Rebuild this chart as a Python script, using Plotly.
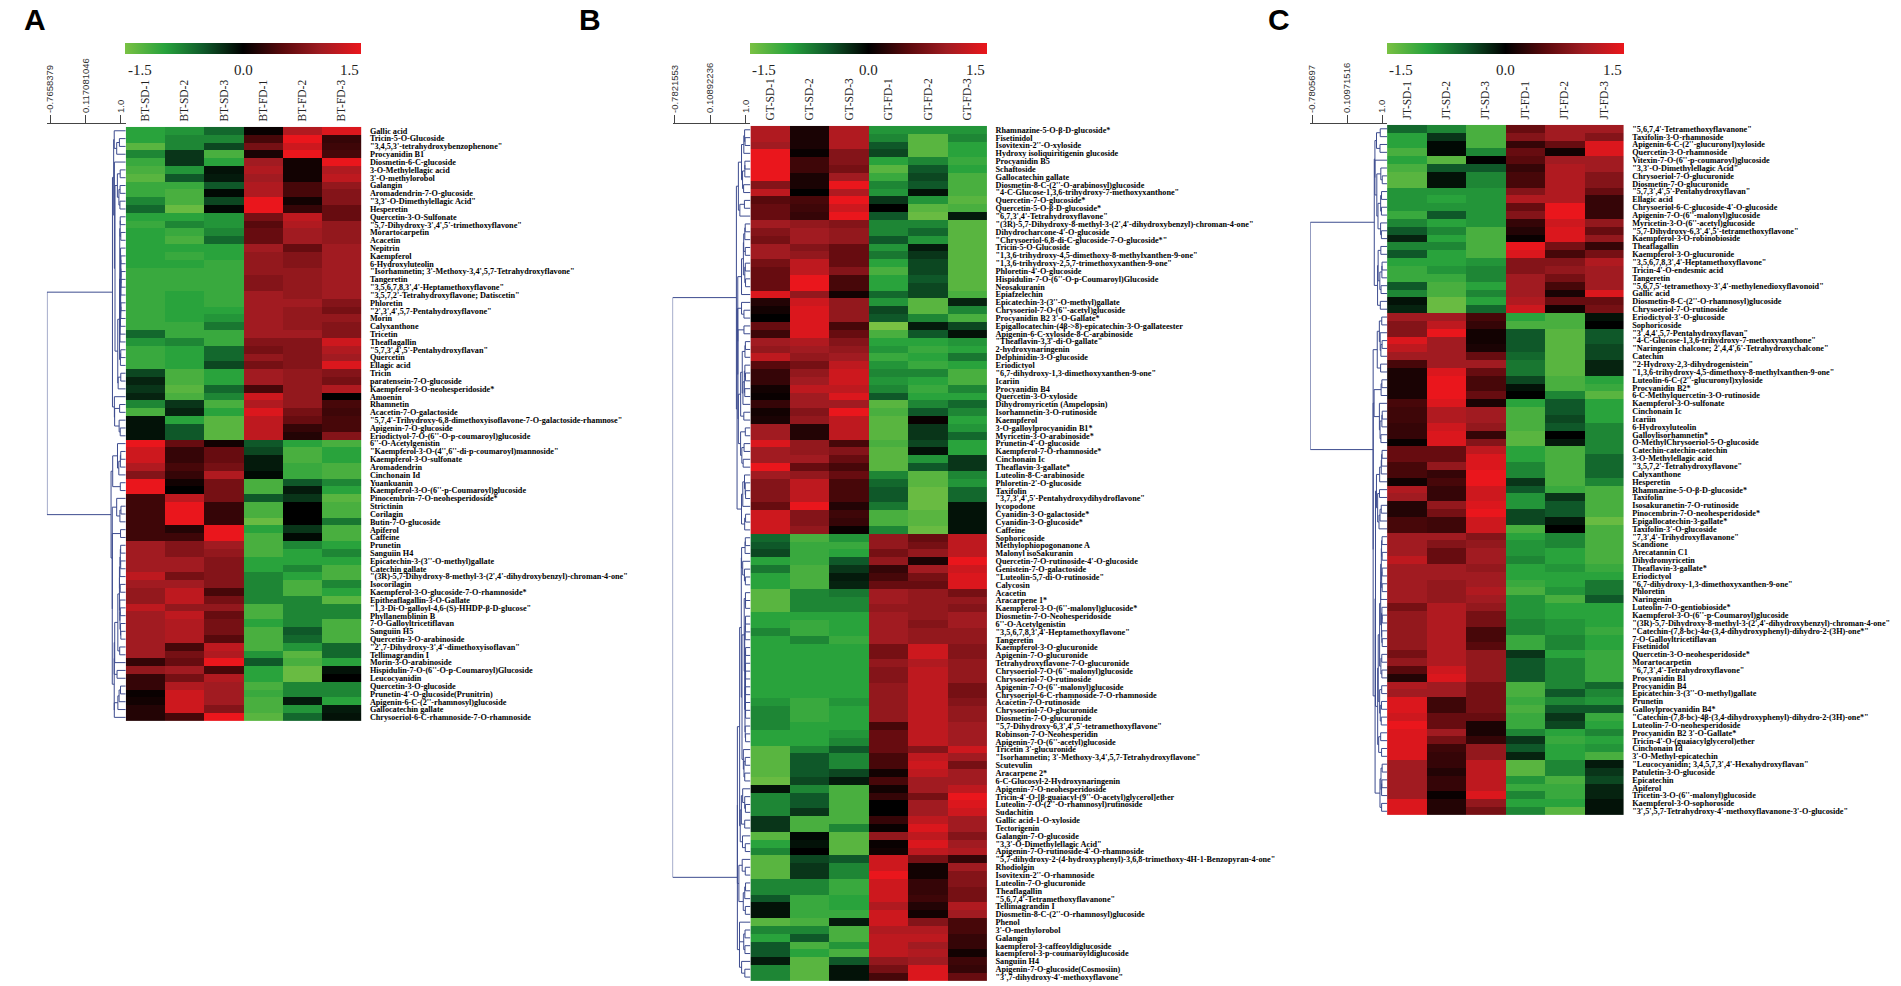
import numpy as np
import plotly.graph_objects as go

# ---------------- data ----------------
cols_a = ["BT-SD-1", "BT-SD-2", "BT-SD-3", "BT-FD-1", "BT-FD-2", "BT-FD-3"]
cols_b = ["GT-SD-1", "GT-SD-2", "GT-SD-3", "GT-FD-1", "GT-FD-2", "GT-FD-3"]
cols_c = ["JT-SD-1", "JT-SD-2", "JT-SD-3", "JT-FD-1", "JT-FD-2", "JT-FD-3"]

# dendrogram axis ticks (similarity)
dtick_a = [-0.7658379, 0.117081046, 1.0]
dlab_a = ["-0.7658379", "0.117081046", "1.0"]
dtick_b = [-0.7821553, 0.10892236, 1.0]
dlab_b = ["-0.7821553", "0.10892236", "1.0"]
dtick_c = [-0.7805697, 0.10971516, 1.0]
dlab_c = ["-0.7805697", "0.10971516", "1.0"]

cb_ticks = [-1.5, 0.0, 1.5]
cb_labels = ["-1.5", "0.0", "1.5"]

names_a = [
    "Gallic acid", "Tricin-5-O-Glucoside", "\"3,4,5,3'-tetrahydroxybenzophenone\"", "Procyanidin B1",
    "Diosmetin-6-C-glucoside", "3-O-Methylellagic acid", "3'-O-methylorobol", "Galangin",
    "Aromadendrin-7-O-glucoside", "\"3,3'-O-Dimethylellagic Acid\"", "Hesperetin", "Quercetin-3-O-Sulfonate",
    "\"5,7-Dihydroxy-3',4',5'-trimethoxyflavone\"", "Morartocarpetin", "Acacetin", "Nepitrin",
    "Kaempferol", "6-Hydroxyluteolin", "\"Isorhamnetin; 3'-Methoxy-3,4',5,7-Tetrahydroxyflavone\"", "Tangeretin",
    "\"3,5,6,7,8,3',4'-Heptamethoxyflavone\"", "\"3,5,7,2'-Tetrahydroxyflavone; Datiscetin\"", "Phloretin",
    "\"2',3',4',5,7-Pentahydroxyflavone\"", "Morin", "Calyxanthone", "Tricetin", "Theaflagallin",
    "\"5,7,3',4',5'-Pentahydroxyflavan\"", "Quercetin", "Ellagic acid", "Tricin", "paratensein-7-O-glucoside",
    "Kaempferol-3-O-neohesperidoside*", "Amoenin", "Rhamnetin", "Acacetin-7-O-galactoside",
    "\"5,7,4'-Trihydroxy-6,8-dimethoxyisoflavone-7-O-galactoside-rhamnose\"", "Apigenin-7-O-glucoside",
    "Eriodictyol-7-O-(6''-O-p-coumaroyl)glucoside", "6''-O-Acetylgenistin",
    "\"Kaempferol-3-O-(4'',6''-di-p-coumaroyl)mannoside\"", "Kaempferol-3-O-sulfonate", "Aromadendrin",
    "Cinchonain Id", "Yuankuanin", "Kaempferol-3-O-(6''-p-Coumaroyl)glucoside", "Pinocembrin-7-O-neohesperidoside*",
    "Strictinin", "Corilagin", "Butin-7-O-glucoside", "Apiferol", "Caffeine", "Prunetin", "Sanguiin H4",
    "Epicatechin-3-(3''-O-methyl)gallate", "Catechin gallate",
    "\"(3R)-5,7-Dihydroxy-8-methyl-3-(2',4'-dihydroxybenzyl)-chroman-4-one\"", "Isocorilagin",
    "Kaempferol-3-O-glucoside-7-O-rhamnoside*", "Epitheaflagallin-3-O-Gallate",
    "\"1,3-Di-O-galloyl-4,6-(S)-HHDP-β-D-glucose\"", "Phyllanemblinin B", "7-O-Galloyltricetiflavan",
    "Sanguiin H5", "Quercetin-3-O-arabinoside", "\"2',7-Dihydroxy-3',4'-dimethoxyisoflavan\"", "Tellimagrandin I",
    "Morin-3-O-arabinoside", "Hispidulin-7-O-(6''-O-p-Coumaroyl)Glucoside", "Leucocyanidin",
    "Quercetin-3-O-glucoside", "Prunetin-4'-O-glucoside(Prunitrin)", "Apigenin-6-C-(2''-rhamnosyl)glucoside",
    "Gallocatechin gallate", "Chrysoeriol-6-C-rhamnoside-7-O-rhamnoside",
]

vals_a = [
    [-1.0, -0.9, -0.6, 0.05, 1.1, 1.4], [-1.0, -0.8, -0.8, 0.4, 1.5, 0.3], [-1.3, -0.8, -0.4, 0.7, 1.3, 0.35],
    [-0.8, -0.3, -1.2, 0.15, 1.5, 0.4], [-1.1, -0.3, -1.0, 1.0, 0.1, 1.5], [-1.2, -0.9, -0.1, 1.1, 0.1, 1.1],
    [-1.3, -0.5, -0.15, 1.0, 0.1, 1.2], [-1.1, -1.1, -0.5, 1.1, 0.4, 0.9], [-1.1, -1.2, -0.05, 1.1, 0.4, 0.8],
    [-0.8, -1.2, -0.4, 1.5, 0.1, 0.8], [-0.6, -1.4, -0.05, 1.5, 0.3, 0.6], [-1.0, -1.0, -0.9, 0.7, 1.2, 0.6],
    [-1.1, -0.8, -0.9, 0.5, 1.1, 0.9], [-1.0, -1.1, -0.8, 0.6, 1.0, 0.9], [-1.0, -1.2, -0.6, 0.6, 1.0, 0.9],
    [-1.0, -1.0, -1.0, 1.0, 0.6, 1.0], [-1.0, -1.1, -1.0, 0.9, 0.8, 1.0], [-1.0, -1.0, -1.1, 0.9, 0.8, 1.0],
    [-1.1, -1.1, -1.1, 0.9, 0.9, 1.0], [-1.1, -1.1, -1.1, 0.8, 0.9, 1.0], [-1.1, -1.1, -1.1, 0.8, 0.9, 1.0],
    [-1.1, -1.0, -1.1, 1.0, 0.9, 1.0], [-1.1, -1.0, -1.1, 1.0, 1.0, 0.8], [-1.1, -1.0, -1.0, 1.0, 0.9, 0.7],
    [-1.1, -1.0, -0.9, 1.0, 0.9, 0.9], [-1.1, -1.1, -0.7, 1.0, 0.9, 0.8], [-0.6, -1.1, -1.1, 1.0, 1.0, 0.8],
    [-0.9, -0.8, -1.1, 0.8, 0.8, 1.3], [-1.1, -1.0, -0.6, 0.7, 0.8, 1.1], [-1.1, -1.0, -0.6, 0.9, 0.8, 1.0],
    [-1.1, -1.0, -0.4, 0.7, 0.8, 1.4], [-0.4, -1.2, -1.0, 1.0, 0.9, 0.8], [-0.2, -1.2, -1.0, 1.0, 0.9, 0.7],
    [-0.3, -1.3, -0.6, 0.4, 0.9, 1.1], [-0.2, -1.2, -0.8, 1.3, 0.9, 0.0], [-0.8, -0.3, -1.2, 1.1, 0.9, 0.4],
    [-1.2, -0.2, -1.0, 1.4, 0.7, 0.35], [-0.1, -1.0, -1.3, 1.2, 0.6, 0.4], [-0.1, -0.5, -1.3, 1.2, 0.3, 0.4],
    [-0.1, -0.5, -1.3, 1.2, 0.2, 0.8], [1.5, 0.6, 0.1, -0.5, -1.0, -1.2], [1.3, 0.3, 0.6, -0.4, -1.2, -1.0],
    [1.3, 0.3, 0.6, -0.15, -1.2, -1.0], [1.1, 0.4, 0.7, -0.15, -1.1, -1.2], [0.8, 0.3, 1.1, -0.05, -1.1, -1.2],
    [1.5, 0.1, 0.7, -1.2, -0.5, -0.8], [1.5, 0.0, 0.7, -1.2, -0.15, -1.0], [0.35, 1.2, 0.7, -0.5, -0.3, -1.3],
    [0.35, 1.5, 0.3, -1.2, 0.0, -1.2], [0.35, 1.5, 0.3, -1.2, 0.0, -1.2], [0.35, 1.5, 0.3, -1.4, 0.0, -0.7],
    [0.35, 0.2, 1.5, -1.0, -0.3, -1.2], [0.35, 0.35, 1.5, -1.2, -0.05, -1.2], [1.0, 0.8, 1.0, -1.2, -0.8, -1.0],
    [1.0, 0.8, 0.9, -1.2, -1.0, -0.8], [1.0, 1.0, 0.8, -1.0, -1.0, -1.0], [1.0, 1.0, 0.8, -1.0, -0.8, -1.2],
    [1.2, 0.7, 0.8, -0.8, -1.0, -1.2], [1.0, 1.0, 0.8, -0.8, -1.2, -0.8], [0.9, 1.2, 0.4, -0.8, -1.2, -1.0],
    [0.9, 1.2, 0.7, -0.8, -0.8, -1.3], [1.2, 0.9, 0.9, -1.2, -0.8, -0.8], [1.0, 1.2, 0.6, -1.2, -0.8, -0.8],
    [1.0, 1.1, 0.7, -1.0, -0.8, -1.2], [1.0, 1.1, 0.7, -1.2, -0.5, -1.2], [1.0, 1.1, 0.5, -1.2, -0.6, -1.2],
    [1.0, 0.4, 1.2, -1.2, -0.9, -0.6], [1.0, 0.7, 1.1, -0.9, -1.3, -0.6], [0.3, 0.6, 1.5, -0.5, -1.2, -1.0],
    [0.9, 1.0, 0.4, -1.0, -1.4, -0.1], [0.3, 0.7, 1.1, -1.0, -1.4, 0.0], [0.3, 1.1, 1.0, -1.2, -0.8, -0.8],
    [0.05, 1.3, 1.0, -1.1, -0.8, -0.8], [0.1, 1.3, 1.0, -1.2, -0.15, -1.0], [0.2, 1.3, 0.8, -1.2, -0.9, -0.15],
    [0.2, 0.4, 1.5, -1.3, -0.6, -0.1],
]

names_b = [
    "Rhamnazine-5-O-β-D-glucoside*", "Fisetinidol", "Isovitexin-2''-O-xyloside", "Hydroxy isoliquiritigenin glucoside",
    "Procyanidin B5", "Schaftoside", "Gallocatechin gallate", "Diosmetin-8-C-(2''-O-arabinosyl)glucoside",
    "\"4-C-Glucose-1,3,6-trihydroxy-7-methoxyxanthone\"", "Quercetin-7-O-glucoside*", "Quercetin-5-O-β-D-glucoside*",
    "\"6,7,3',4'-Tetrahydroxyflavone\"", "\"(3R)-5,7-Dihydroxy-8-methyl-3-(2',4'-dihydroxybenzyl)-chroman-4-one\"",
    "Dihydrocharcone-4'-O-glucoside", "\"Chrysoeriol-6,8-di-C-glucoside-7-O-glucoside*\"", "Tricin-5-O-Glucoside",
    "\"1,3,6-trihydroxy-4,5-dimethoxy-8-methylxanthen-9-one\"", "\"1,3,6-trihydroxy-2,5,7-trimethoxyxanthen-9-one\"",
    "Phloretin-4'-O-glucoside", "Hispidulin-7-O-(6''-O-p-Coumaroyl)Glucoside", "Neosakuranin", "Epiafzelechin",
    "Epicatechin-3-(3''-O-methyl)gallate", "Chrysoeriol-7-O-(6''-acetyl)glucoside", "Procyanidin B2 3'-O-Gallate*",
    "Epigallocatechin-(4β->8)-epicatechin-3-O-gallateester", "Apigenin-6-C-xyloside-8-C-arabinoside",
    "\"Theaflavin-3,3'-di-O-gallate\"", "2-hydroxynaringenin", "Delphinidin-3-O-glucoside", "Eriodictyol",
    "\"6,7-dihydroxy-1,3-dimethoxyxanthen-9-one\"", "Icariin", "Procyanidin B4", "Quercetin-3-O-xyloside",
    "Dihydromyricetin (Ampelopsin)", "Isorhamnetin-3-O-rutinoside", "Kaempferol", "3-O-galloylprocyanidin B1*",
    "Myricetin-3-O-arabinoside*", "Prunetin-4'-O-glucoside", "Kaempferol-7-O-rhamnoside*", "Cinchonain Ic",
    "Theaflavin-3-gallate*", "Luteolin-8-C-arabinoside", "Phloretin-2'-O-glucoside", "Taxifolin",
    "\"3,7,3',4',5'-Pentahydroxydihydroflavone\"", "lycopodone", "Cyanidin-3-O-galactoside*", "Cyanidin-3-O-glucoside*",
    "Caffeine", "Sophoricoside", "Methylophiopogonanone A", "Malonyl isoSakuranin",
    "Quercetin-7-O-rutinoside-4'-O-glucoside", "Genistein-7-O-galactoside", "\"Luteolin-5,7-di-O-rutinoside\"",
    "Calycosin", "Acacetin", "Aracarpene 1*", "Kaempferol-3-O-(6''-malonyl)glucoside*", "Diosmetin-7-O-Neohesperidoside",
    "6''-O-Acetylgenistin", "\"3,5,6,7,8,3',4'-Heptamethoxyflavone\"", "Tangeretin", "Kaempferol-3-O-glucuronide",
    "Apigenin-7-O-glucuronide", "Tetrahydroxyflavone-7-O-glucuronide", "Chrysoeriol-7-O-(6''-malonyl)glucoside",
    "Chrysoeriol-7-O-rutinoside", "Apigenin-7-O-(6''-malonyl)glucoside", "Chrysoeriol-6-C-rhamnoside-7-O-rhamnoside",
    "Acacetin-7-O-rutinoside", "Chrysoeriol-7-O-glucuronide", "Diosmetin-7-O-glucuronide",
    "\"5,7-Dihydroxy-6,3',4',5'-tetramethoxyflavone\"", "Robinson-7-O-Neohesperidin",
    "Apigenin-7-O-(6''-acetyl)glucoside", "Tricetin 3'-glucuronide",
    "\"Isorhamnetin; 3'-Methoxy-3,4',5,7-Tetrahydroxyflavone\"", "Scutevulin", "Aracarpene 2*",
    "6-C-Glucosyl-2-Hydroxynaringenin", "Apigenin-7-O-neohesperidoside",
    "Tricin-4'-O-[β-guaiacyl-(9''-O-acetyl)glycerol]ether", "Luteolin-7-O-(2''-O-rhamnosyl)rutinoside", "Sudachitin",
    "Gallic acid-1-O-xyloside", "Tectorigenin", "Galangin-7-O-glucoside", "\"3,3'-O-Dimethylellagic Acid\"",
    "Apigenin-7-O-rutinoside-4'-O-rhamnoside",
    "\"5,7-dihydroxy-2-(4-hydroxyphenyl)-3,6,8-trimethoxy-4H-1-Benzopyran-4-one\"", "Rhodiolgin",
    "Isovitexin-2''-O-rhamnoside", "Luteolin-7-O-glucuronide", "Theaflagallin",
    "\"5,6,7,4'-Tetramethoxyflavanone\"", "Tellimagrandin I", "Diosmetin-8-C-(2''-O-rhamnosyl)glucoside", "Phenol",
    "3'-O-methylorobol", "Galangin", "kaempferol-3-caffeoyldiglucoside", "kaempferol-3-p-coumaroyldiglucoside",
    "Sanguiin H4", "Apigenin-7-O-glucoside(Cosmosiin)", "\"3',7-dihydroxy-4'-methoxyflavone\"",
]

vals_b = [
    [1.1, 0.15, 1.1, -0.9, -0.9, -0.9], [1.1, 0.15, 1.1, -0.8, -1.3, -0.8], [1.0, 0.15, 1.1, -0.5, -1.3, -1.0],
    [1.5, 0.05, 0.8, -0.4, -1.3, -1.0], [1.5, 0.35, 0.8, -1.0, -0.8, -1.1], [1.5, 0.35, 0.7, -1.3, -0.5, -1.0],
    [1.5, 0.15, 1.0, -1.1, -0.4, -1.2], [0.8, 0.15, 1.5, -0.8, -0.5, -1.2], [1.2, 0.0, 1.1, -0.9, -0.1, -1.2],
    [0.5, 0.4, 1.5, -0.3, -0.9, -1.3], [0.6, 0.35, 1.3, 0.0, -1.3, -1.2], [0.6, 0.3, 1.5, -0.5, -1.4, -0.15],
    [1.0, 0.9, 0.8, -0.8, -0.8, -1.3], [0.8, 1.0, 0.9, -0.8, -0.6, -1.3], [0.7, 1.0, 0.9, -0.5, -0.9, -1.3],
    [1.0, 0.8, 0.6, -0.9, -0.15, -1.3], [1.0, 0.9, 0.6, -0.7, -0.3, -1.3], [0.7, 1.2, 0.6, -1.0, -0.4, -1.3],
    [0.6, 1.2, 0.8, -1.2, -0.4, -1.3], [0.6, 1.5, 0.4, -1.0, -0.5, -1.3], [0.6, 1.5, 0.4, -1.0, -0.4, -1.3],
    [1.4, 0.9, 0.1, -0.6, -0.4, -1.2], [0.2, 1.3, 0.9, -0.9, -1.3, -0.2], [0.1, 1.4, 0.9, -0.4, -1.3, -0.8],
    [0.0, 1.4, 0.9, -0.5, -0.8, -1.2], [0.6, 1.4, 0.4, -1.5, -0.15, -0.4], [0.35, 1.4, 0.6, -1.2, -0.5, -0.1],
    [1.0, 1.1, 0.8, -1.0, -1.0, -0.9], [0.9, 1.0, 0.9, -0.9, -1.1, -1.0], [1.2, 0.9, 1.0, -1.1, -1.0, -0.7],
    [0.5, 0.7, 1.2, -0.9, -1.1, -1.0], [0.3, 0.9, 1.3, -0.8, -0.8, -1.2], [0.3, 1.0, 1.3, -0.9, -1.0, -1.2],
    [0.1, 1.2, 1.2, -0.8, -1.1, -0.8], [0.05, 1.0, 1.4, -0.5, -1.0, -1.0], [0.3, 1.0, 1.0, -1.3, -0.8, -0.6],
    [0.1, 0.8, 1.5, -1.2, -0.5, -0.8], [0.15, 0.9, 1.2, -1.3, 0.05, -1.0], [1.0, 0.2, 1.2, -1.3, -0.3, -0.9],
    [1.0, 0.2, 1.2, -1.3, -0.3, -0.6], [1.4, 0.9, 0.4, -1.2, -0.4, -1.0], [1.0, 0.9, 0.8, -1.3, -0.1, -1.0],
    [1.0, 1.0, 0.6, -1.3, -0.9, -0.3], [1.5, 0.6, 0.4, -1.3, -0.5, -0.3], [1.0, 0.9, 0.6, -0.8, -1.3, -0.8],
    [0.8, 1.2, 0.4, -0.6, -1.3, -0.9], [0.8, 1.2, 0.4, -0.5, -1.4, -0.6], [0.8, 1.2, 0.4, -0.5, -1.4, -0.6],
    [0.6, 1.5, 0.2, -0.7, -1.4, -0.1], [1.3, 0.8, 0.35, -1.2, -1.3, -0.1], [1.3, 0.8, 0.3, -1.2, -1.3, -0.1],
    [1.3, 0.9, 0.05, -0.8, -1.4, -0.1], [-0.6, -1.2, -0.9, 0.9, 0.6, 1.2], [-0.5, -1.1, -1.1, 0.9, 0.7, 1.2],
    [-0.4, -1.1, -1.0, 0.7, 0.9, 1.2], [-1.0, -1.1, -0.5, 0.9, 0.15, 1.5], [-0.7, -1.2, -0.3, 0.3, 1.0, 1.3],
    [-1.0, -1.2, -0.15, 0.4, 0.7, 1.4], [-1.0, -1.2, -0.2, 0.6, 0.6, 1.4], [-1.3, -0.8, -0.7, 1.0, 0.9, 0.7],
    [-1.3, -0.8, -0.8, 1.0, 0.9, 0.9], [-1.3, -0.8, -0.8, 0.9, 0.9, 0.8], [-1.0, -1.0, -1.0, 1.0, 0.9, 1.0],
    [-1.0, -1.1, -1.0, 1.0, 0.8, 1.0], [-0.8, -1.1, -1.0, 1.0, 0.9, 0.9], [-1.0, -0.8, -1.1, 1.0, 0.9, 0.9],
    [-1.0, -1.0, -1.0, 0.7, 1.3, 0.8], [-1.0, -1.0, -1.0, 0.7, 1.3, 0.8], [-1.0, -1.0, -1.0, 0.9, 1.1, 0.9],
    [-1.0, -1.0, -1.0, 0.8, 1.2, 0.9], [-1.0, -1.0, -1.0, 0.8, 1.2, 0.9], [-1.0, -1.0, -1.0, 0.9, 1.2, 0.7],
    [-1.0, -1.0, -1.0, 0.9, 1.2, 0.7], [-0.9, -1.1, -0.9, 0.9, 1.2, 0.8], [-0.8, -1.1, -1.0, 0.9, 1.2, 0.9],
    [-0.8, -1.1, -1.0, 0.9, 1.2, 0.9], [-0.8, -1.0, -1.0, 0.4, 1.2, 1.0], [-1.0, -1.0, -0.9, 0.6, 1.2, 1.0],
    [-1.0, -1.0, -0.8, 0.6, 1.2, 1.0], [-1.3, -0.8, -0.5, 0.6, 0.8, 1.3], [-1.3, -0.5, -0.8, 0.4, 1.2, 1.0],
    [-1.3, -0.5, -0.8, 0.4, 1.3, 0.7], [-1.3, -0.5, -0.4, 0.1, 1.2, 1.0], [-1.4, -0.4, -0.15, 0.4, 1.0, 1.0],
    [-0.1, -0.8, -1.2, 0.1, 1.0, 1.2], [-0.8, -0.5, -1.2, 0.3, 0.7, 1.5], [-0.8, -0.5, -1.2, 0.0, 1.0, 1.4],
    [-0.8, -0.3, -1.2, 0.0, 1.0, 1.3], [-0.3, -1.2, -1.2, 0.3, 1.2, 1.0], [-0.3, -1.2, -0.8, 0.05, 1.4, 1.0],
    [-1.3, -0.05, -1.3, 0.9, 1.2, 0.8], [-1.0, -0.1, -1.3, 0.05, 1.4, 1.0], [-0.8, 0.0, -1.3, 0.1, 1.2, 1.1],
    [-1.3, -0.4, -0.5, 1.3, 0.7, 0.3], [-1.3, -0.3, -0.8, 1.3, 0.1, 1.0], [-1.3, -0.3, -0.8, 1.5, 0.1, 0.8],
    [-0.8, -0.8, -1.1, 1.3, 0.3, 0.8], [-0.8, -0.8, -1.1, 1.3, 0.3, 0.7], [-0.5, -1.1, -1.0, 1.3, 0.35, 0.7],
    [-0.1, -1.1, -1.0, 1.1, 0.2, 1.1], [-0.1, -1.1, -1.1, 1.3, 0.1, 1.0], [-1.3, -1.2, -0.15, 1.3, 0.8, 0.4],
    [-0.8, -0.8, -1.2, 1.1, 1.1, 0.4], [-1.0, -0.5, -1.2, 1.2, 1.2, 0.3], [-0.5, -1.2, -0.9, 1.2, 1.0, 0.3],
    [-0.5, -1.0, -1.2, 1.2, 1.1, 0.1], [-0.15, -1.3, -0.5, 0.9, 1.0, 0.35], [-0.8, -1.3, -0.1, 0.7, 1.4, 0.3],
    [-0.8, -1.3, -0.1, 0.4, 1.4, 0.6],
]

names_c = [
    "\"5,6,7,4'-Tetramethoxyflavanone\"", "Taxifolin-3-O-rhamnoside", "Apigenin-6-C-(2''-glucuronyl)xyloside",
    "Quercetin-3-O-rhamnoside", "Vitexin-7-O-(6''-p-coumaroyl)glucoside", "\"3,3'-O-Dimethylellagic Acid\"",
    "Chrysoeriol-7-O-glucuronide", "Diosmetin-7-O-glucuronide", "\"5,7,3',4',5'-Pentahydroxyflavan\"", "Ellagic acid",
    "Chrysoeriol-6-C-glucoside-4'-O-glucoside", "Apigenin-7-O-(6''-malonyl)glucoside",
    "Myricetin-3-O-(6''-acetyl)glucoside", "\"5,7-Dihydroxy-6,3',4',5'-tetramethoxyflavone\"",
    "Kaempferol-3-O-robinobioside", "Theaflagallin", "Kaempferol-3-O-glucuronide",
    "\"3,5,6,7,8,3',4'-Heptamethoxyflavone\"", "Tricin-4'-O-endesmic acid", "Tangeretin",
    "\"5,6,7,5'-tetramethoxy-3',4'-methylenedioxyflavonoid\"", "Gallic acid",
    "Diosmetin-8-C-(2''-O-rhamnosyl)glucoside", "Chrysoeriol-7-O-rutinoside", "Eriodictyol-3'-O-glucoside",
    "Sophoricoside", "\"3',4,4',5,7-Pentahydroxyflavan\"", "\"4-C-Glucose-1,3,6-trihydroxy-7-methoxyxanthone\"",
    "\"Naringenin chalcone; 2',4,4',6'-Tetrahydroxychalcone\"", "Catechin", "\"2-Hydroxy-2,3-dihydrogenistein\"",
    "\"1,3,6-trihydroxy-4,5-dimethoxy-8-methylxanthen-9-one\"", "Luteolin-6-C-(2''-glucuronyl)xyloside",
    "Procyanidin B2*", "6-C-Methylquercetin-3-O-rutinoside", "Kaempferol-3-O-sulfonate", "Cinchonain Ic", "Icariin",
    "6-Hydroxyluteolin", "Galloylisorhamnetin*", "O-MethylChrysoeriol-5-O-glucoside", "Catechin-catechin-catechin",
    "3-O-Methylellagic acid", "\"3,5,7,2'-Tetrahydroxyflavone\"", "Calyxanthone", "Hesperetin",
    "Rhamnazine-5-O-β-D-glucoside*", "Taxifolin", "Isosakuranetin-7-O-rutinoside", "Pinocembrin-7-O-neohesperidoside*",
    "Epigallocatechin-3-gallate*", "Taxifolin-3'-O-glucoside", "\"7,3',4'-Trihydroxyflavanone\"", "Scandione",
    "Arecatannin C1", "Dihydromyricetin", "Theaflavin-3-gallate*", "Eriodictyol",
    "\"6,7-dihydroxy-1,3-dimethoxyxanthen-9-one\"", "Phloretin", "Naringenin", "Luteolin-7-O-gentiobioside*",
    "Kaempferol-3-O-(6''-p-Coumaroyl)glucoside",
    "\"(3R)-5,7-Dihydroxy-8-methyl-3-(2',4'-dihydroxybenzyl)-chroman-4-one\"",
    "\"Catechin-(7,8-bc)-4α-(3,4-dihydroxyphenyl)-dihydro-2-(3H)-one*\"", "7-O-Galloyltricetiflavan", "Fisetinidol",
    "Quercetin-3-O-neohesperidoside*", "Morartocarpetin", "\"6,7,3',4'-Tetrahydroxyflavone\"", "Procyanidin B1",
    "Procyanidin B4", "Epicatechin-3-(3''-O-methyl)gallate", "Prunetin", "Galloylprocyanidin B4*",
    "\"Catechin-(7,8-bc)-4β-(3,4-dihydroxyphenyl)-dihydro-2-(3H)-one*\"", "Luteolin-7-O-neohesperidoside",
    "Procyanidin B2 3'-O-Gallate*", "Tricin-4'-O-(guaiacylglycerol)ether", "Cinchonain Id", "3'-O-Methyl-epicatechin",
    "\"Leucocyanidin; 3,4,5,7,3',4'-Hexahydroxyflavan\"", "Patuletin-3-O-glucoside", "Epicatechin", "Apiferol",
    "Tricetin-3-O-(6''-malonyl)glucoside", "Kaempferol-3-O-sophoroside",
    "\"3',5',5,7-Tetrahydroxy-4'-methoxyflavanone-3'-O-glucoside\"",
]

vals_c = [
    [-0.6, -0.8, -1.2, 0.6, 1.0, 1.0], [-1.0, -0.3, -1.2, 0.8, 1.0, 0.8], [-1.0, -0.05, -1.2, 0.3, 0.6, 1.4],
    [-1.2, -0.05, -0.8, 0.6, 0.1, 1.4], [-1.0, -1.3, 0.0, 0.5, 1.0, 1.0], [-1.2, -0.5, -0.5, 0.3, 1.1, 1.0],
    [-1.3, -0.1, -0.8, 0.4, 1.1, 0.8], [-1.3, -0.1, -0.8, 0.4, 1.1, 0.8], [-0.9, -0.9, -0.9, 0.8, 1.1, 0.6],
    [-0.9, -1.0, -0.9, 1.1, 1.1, 0.3], [-0.9, -0.9, -0.9, 0.6, 1.5, 0.3], [-1.1, -0.5, -0.9, 0.8, 1.5, 0.3],
    [-0.8, -1.0, -0.9, 0.3, 1.3, 0.9], [-0.5, -0.8, -1.2, 0.2, 1.4, 0.6], [-0.2, -1.0, -1.2, 0.05, 1.4, 0.9],
    [-0.8, -0.8, -1.2, 1.5, 0.7, 0.3], [-0.5, -1.0, -1.2, 1.4, 0.4, 0.7], [-1.0, -1.0, -0.9, 0.8, 0.8, 1.1],
    [-1.1, -0.9, -0.8, 0.8, 0.9, 1.0], [-1.1, -1.1, -0.8, 1.0, 0.7, 1.0], [-0.5, -1.2, -1.0, 1.0, 0.4, 1.0],
    [-0.8, -1.2, -0.8, 1.0, 0.15, 1.4], [-0.1, -1.4, -1.0, 1.1, 0.6, 0.6], [-0.2, -1.4, -0.6, 1.3, 0.1, 0.7],
    [1.0, 1.0, 0.4, -1.0, -1.2, -0.1], [0.8, 1.2, 0.3, -1.2, -1.2, 0.0], [0.8, 1.5, 0.1, -0.5, -1.3, -0.5],
    [1.4, 1.0, 0.1, -0.5, -1.3, -0.5], [1.2, 1.0, 0.15, -0.5, -1.3, -0.4], [1.0, 1.0, 0.6, -0.6, -1.3, -0.4],
    [0.4, 1.0, 1.0, -0.7, -1.3, -0.2], [0.15, 1.4, 0.6, -0.7, -1.3, -0.2], [0.15, 1.5, 0.4, -0.4, -1.2, -1.0],
    [0.15, 1.5, 0.4, -0.1, -1.2, -1.1], [0.15, 1.5, 0.6, 0.0, -0.8, -1.3], [0.4, 1.4, 0.15, -1.0, -0.5, -1.0],
    [0.35, 1.1, 1.0, -1.2, -0.5, -1.0], [0.35, 1.1, 1.0, -1.2, -0.4, -1.0], [0.3, 1.3, 0.9, -1.2, -0.5, -0.8],
    [0.3, 1.4, 0.3, -1.3, 0.0, -0.8], [0.05, 1.4, 0.8, -1.3, -0.15, -0.8], [0.6, 0.6, 1.2, -1.0, -1.2, -0.8],
    [0.6, 0.6, 1.4, -1.0, -1.2, -0.6], [0.4, 0.9, 1.4, -0.8, -1.2, -0.6], [0.4, 0.3, 1.5, -0.8, -1.2, -0.6],
    [0.1, 0.4, 1.5, -0.3, -1.2, -0.8], [1.1, 0.3, 1.3, -0.5, -1.1, -1.2], [1.0, 0.3, 1.3, -0.9, -0.3, -1.2],
    [0.2, 0.9, 1.4, -0.9, -0.5, -1.2], [0.2, 0.7, 1.5, -0.4, -0.5, -1.2], [0.4, 0.35, 1.3, -0.4, -0.15, -1.4],
    [0.4, 0.35, 1.3, -1.2, 0.0, -1.2], [1.0, 1.0, 0.8, -1.0, -0.8, -1.2], [1.0, 0.8, 0.9, -0.9, -0.8, -1.2],
    [1.0, 0.6, 1.0, -0.9, -1.0, -1.2], [1.2, 0.6, 1.0, -0.8, -1.0, -1.2], [1.0, 1.0, 0.9, -1.0, -0.9, -1.1],
    [1.0, 1.0, 1.0, -1.0, -1.0, -1.0], [1.0, 0.9, 1.0, -1.1, -1.0, -0.7], [1.0, 0.9, 1.1, -1.2, -0.9, -0.7],
    [1.0, 0.9, 1.0, -0.9, -1.2, -0.5], [0.7, 1.1, 0.9, -0.9, -1.0, -1.0], [0.9, 1.1, 0.7, -0.9, -1.0, -1.0],
    [0.9, 1.1, 0.7, -0.8, -0.9, -1.0], [0.9, 1.1, 0.4, -0.8, -0.9, -1.1], [0.9, 1.1, 0.4, -1.1, -0.8, -1.0],
    [0.9, 1.1, 0.5, -1.1, -0.8, -1.0], [0.7, 1.1, 0.9, -0.3, -1.0, -1.1], [0.9, 1.1, 0.9, -0.5, -0.8, -1.1],
    [0.5, 1.3, 0.9, -0.5, -0.8, -1.1], [0.2, 1.4, 0.9, -0.5, -0.8, -1.1], [1.1, 1.0, 0.7, -1.2, -0.8, -0.6],
    [1.0, 1.0, 0.7, -1.2, -0.5, -0.8], [1.4, 0.35, 0.7, -1.1, -0.8, -0.9], [1.4, 0.35, 0.7, -1.2, -0.5, -0.5],
    [1.3, 0.6, 0.6, -1.1, -0.3, -1.1], [1.5, 0.6, 0.15, -1.1, -0.4, -1.0], [1.4, 1.0, 0.15, -0.8, -1.0, -0.8],
    [1.4, 0.7, 0.3, -0.3, -1.1, -1.0], [1.4, 0.35, 0.9, -0.5, -1.0, -0.9], [1.4, 0.3, 0.9, -0.2, -1.0, -1.2],
    [1.0, 0.3, 1.2, -1.3, -0.8, -0.15], [1.0, 0.2, 1.2, -1.3, -0.8, -0.3], [1.0, 0.3, 1.2, -0.9, -1.2, -0.4],
    [1.0, 0.3, 1.2, -1.1, -1.1, -0.2], [1.0, 0.05, 1.4, -0.8, -1.1, -0.2], [1.4, 0.2, 0.9, -1.0, -1.0, -0.1],
    [1.4, 0.2, 0.7, -0.8, -1.3, -0.1],
]

# ---------------- styling ----------------
W, H = 1901, 986
SCALE = [[0.0, "#79c143"], [0.17, "#27a23c"], [0.33, "#0f5a2a"], [0.5, "#000000"],
         [0.67, "#5a090c"], [0.83, "#a01b21"], [1.0, "#ea161c"]]
LINE = "#3d4c8f"
SERIF = "Liberation Serif"


def fx(px):
    return px / W


def fy(py):
    return 1 - py / H


def dendro(z, leaf_h):
    """adjacent-only average-linkage on row correlation, keeps the shown row order"""
    z = np.asarray(z, float)
    zc = z - z.mean(axis=1, keepdims=True)
    nrm = np.linalg.norm(zc, axis=1, keepdims=True)
    nrm[nrm == 0] = 1
    zc = zc / nrm
    corr = zc @ zc.T
    cl = [dict(m=[i], y=float(i), h=leaf_h) for i in range(len(z))]
    xs, ys = [], []
    while len(cl) > 1:
        sims = [corr[np.ix_(cl[k]["m"], cl[k + 1]["m"])].mean() for k in range(len(cl) - 1)]
        k = int(np.argmax(sims))
        a, b = cl[k], cl[k + 1]
        s = min(sims[k], a["h"], b["h"])
        xs += [a["h"], s, s, b["h"], None]
        ys += [a["y"], a["y"], b["y"], b["y"], None]
        cl[k:k + 2] = [dict(m=a["m"] + b["m"], y=(a["y"] + b["y"]) / 2, h=s)]
    return xs, ys, cl[0]["h"]


panels = [
    dict(tag="A", names=names_a, cols=cols_a, vals=vals_a, dt=dtick_a, dl=dlab_a,
         hx=(122, 358), hy=(127, 722), dx=43, lab=(31, 20)),
    dict(tag="B", names=names_b, cols=cols_b, vals=vals_b, dt=dtick_b, dl=dlab_b,
         hx=(748, 985), hy=(126, 982), dx=670, lab=(587, 20)),
    dict(tag="C", names=names_c, cols=cols_c, vals=vals_c, dt=dtick_c, dl=dlab_c,
         hx=(1386, 1623), hy=(125, 816), dx=1309, lab=(1278, 20)),
]

fig = go.Figure()
layout = {}
annotations = []

for i, p in enumerate(panels):
    n = len(p["names"])
    hid, did = 2 * i + 1, 2 * i + 2
    hx0, hx1 = p["hx"]
    hy0, hy1 = p["hy"]
    tmin = p["dt"][0]
    # 1.0 sits 5 px left of the heatmap; leaves run up to the heatmap edge
    xmax = 1.0 + 5 * (1.0 - tmin) / (hx0 - 5 - p["dx"])

    fig.add_trace(go.Heatmap(
        z=p["vals"], x=list(range(6)), y=list(range(n)),
        colorscale=SCALE, zmin=cb_ticks[0], zmax=cb_ticks[-1],
        xaxis=f"x{hid}", yaxis=f"y{hid}",
        colorbar=dict(orientation="h", x=fx((hx0 + hx1) / 2), xanchor="center",
                      y=fy(43), yanchor="top", len=hx1 - hx0, lenmode="pixels",
                      thickness=11, thicknessmode="pixels", outlinewidth=0,
                      xpad=0, ypad=0, showticklabels=False, ticks=""),
        hovertemplate="%{y}<br>%{x}: %{z}<extra></extra>",
    ))

    # colour-key labels: first flush left, middle centred, last flush right
    for v, t, anc in zip(cb_ticks, cb_labels, ["left", "center", "right"]):
        px = hx0 + (v - cb_ticks[0]) / (cb_ticks[-1] - cb_ticks[0]) * (hx1 - hx0)
        annotations.append(dict(text=t, x=fx(px), y=fy(70), xref="paper", yref="paper",
                                xanchor=anc, yanchor="middle", showarrow=False,
                                font=dict(family=SERIF, size=15, color="#222")))

    xs, ys, root = dendro(p["vals"], xmax)
    fig.add_trace(go.Scatter(x=xs, y=ys, mode="lines", line=dict(color=LINE, width=1),
                             xaxis=f"x{did}", yaxis=f"y{did}", hoverinfo="skip", showlegend=False))

    layout[f"xaxis{hid}"] = dict(
        domain=[fx(hx0), fx(hx1)], anchor=f"y{hid}", side="top", range=[-0.5, 5.5],
        tickmode="array", tickvals=list(range(6)), ticktext=p["cols"], tickangle=-90,
        ticks="outside", ticklen=2, tickcolor="rgba(0,0,0,0)",
        tickfont=dict(family=SERIF, size=11.5, color="#222"),
        showgrid=False, zeroline=False, showline=False)
    layout[f"yaxis{hid}"] = dict(
        domain=[fy(hy1), fy(hy0)], anchor=f"x{hid}", side="right", range=[n - 0.5, -0.5],
        tickmode="array", tickvals=list(range(n)), ticktext=p["names"],
        ticks="outside", ticklen=6, tickcolor="rgba(0,0,0,0)",
        tickfont=dict(family=SERIF, size=8.2, color="#000", weight="bold"),
        showgrid=False, zeroline=False, showline=False)
    layout[f"xaxis{did}"] = dict(
        domain=[fx(p["dx"]), fx(hx0)], anchor="free", position=fy(123), side="top",
        range=[min(tmin, root), xmax], tickmode="array", tickvals=p["dt"], ticktext=p["dl"],
        tickangle=-90, ticks="outside", ticklen=8, tickcolor="#444", tickwidth=1,
        showline=True, linecolor="#444", linewidth=1,
        tickfont=dict(family="Liberation Sans", size=9.5, color="#333"),
        showgrid=False, zeroline=False)
    layout[f"yaxis{did}"] = dict(
        domain=[fy(hy1), fy(hy0)], anchor=f"x{did}", range=[n - 0.5, -0.5], visible=False)

    annotations.append(dict(text=f"<b>{p['tag']}</b>", x=fx(p["lab"][0]), y=fy(p["lab"][1]),
                            xref="paper", yref="paper", xanchor="center", yanchor="middle",
                            showarrow=False,
                            font=dict(family="Liberation Sans", size=30, color="#000")))

fig.update_layout(**layout)
fig.update_layout(width=W, height=H, margin=dict(l=0, r=0, t=0, b=0),
                  paper_bgcolor="white", plot_bgcolor="white", showlegend=False,
                  annotations=annotations)
# figure fills the window exactly: drop the page's default body margin
fig.write_html("out.html", config={"displayModeBar": False},
               post_script="document.body.style.margin='0';document.body.style.overflow='hidden';")
